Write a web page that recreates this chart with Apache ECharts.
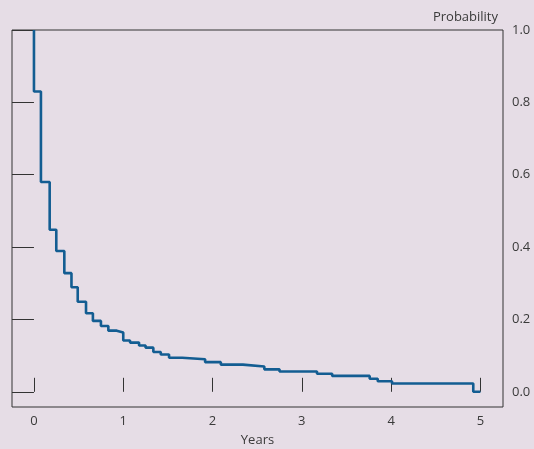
<!DOCTYPE html>
<html>
<head>
<meta charset="utf-8">
<script src="https://cdn.jsdelivr.net/npm/echarts@6/dist/echarts.min.js"></script>
<style>
  html, body { margin: 0; padding: 0; background: #e6dde6; }
  #chart { width: 534px; height: 449px; }
</style>
</head>
<body>
<div id="chart"></div>
<script>
// Kaplan-Meier style survival estimate: time (years) where each step starts
const years = [0, 0, 0.078, 0.176, 0.25, 0.34, 0.42, 0.49, 0.583, 0.66, 0.75, 0.833, 0.927,
  1.0, 1.076, 1.177, 1.25, 1.337, 1.42, 1.513, 1.66, 1.917, 2.093, 2.34, 2.58, 2.75,
  3.17, 3.34, 3.76, 3.85, 4.01, 4.92, 5.0];
// probability held from that time until the next step
const survival = [1.0, 0.83, 0.58, 0.448, 0.389, 0.328, 0.289, 0.249, 0.217, 0.196, 0.182, 0.169, 0.164,
  0.142, 0.136, 0.128, 0.122, 0.11, 0.103, 0.094, 0.09, 0.082, 0.075, 0.07, 0.062, 0.056,
  0.05, 0.044, 0.036, 0.029, 0.023, 0.0, 0.0];

const xTickValues = [0, 1, 2, 3, 4, 5];
const yTickValues = [0, 0.2, 0.4, 0.6, 0.8, 1.0];

const seriesData = years.map((t, i) => [t, survival[i]]);

const textColor = '#3a3a3a';
const frameColor = '#333333';
const fontFamily = '"Open Sans", "Noto Sans", sans-serif';

const chart = echarts.init(document.getElementById('chart'), null, { renderer: 'canvas' });
chart.setOption({
  backgroundColor: '#e6dde6',
  animation: false,
  title: {
    text: 'Probability',
    right: 31, top: 6,
    textStyle: { color: textColor, fontSize: 13, fontWeight: 'normal', fontFamily }
  },
  grid: {
    left: 12, top: 30, width: 491, height: 377,
    containLabel: false,
    outerBoundsMode: 'none',
    show: true, borderColor: frameColor, borderWidth: 1, backgroundColor: 'transparent'
  },
  xAxis: {
    type: 'value',
    min: -0.246, max: 5.253,
    name: 'Years', nameLocation: 'middle', nameGap: 27,
    nameTextStyle: { color: textColor, fontSize: 13, fontFamily },
    axisLine: { show: false },
    splitLine: { show: false },
    axisTick: { show: true, inside: true, length: 14, customValues: xTickValues,
      lineStyle: { color: frameColor, width: 1 } },
    axisLabel: { customValues: xTickValues, color: textColor, fontSize: 13, fontFamily, margin: 8 }
  },
  yAxis: [
    {
      type: 'value', position: 'right',
      min: -0.042, max: 1.0,
      axisLine: { show: false },
      splitLine: { show: false },
      axisTick: { show: true, inside: true, length: 14, customValues: yTickValues,
        lineStyle: { color: frameColor, width: 1 } },
      axisLabel: { customValues: yTickValues, color: textColor, fontSize: 13, fontFamily, margin: 9,
        formatter: v => v.toFixed(1) }
    },
    {
      type: 'value', position: 'left',
      min: -0.042, max: 1.0,
      axisLine: { show: false },
      splitLine: { show: false },
      axisTick: { show: true, inside: true, length: 14, customValues: yTickValues,
        lineStyle: { color: frameColor, width: 1 } },
      axisLabel: { show: false }
    }
  ],
  series: [{
    type: 'line',
    step: 'end',
    data: seriesData,
    showSymbol: false,
    lineStyle: { color: '#135d92', width: 2.6 },
    clip: false
  }]
});
</script>
</body>
</html>
